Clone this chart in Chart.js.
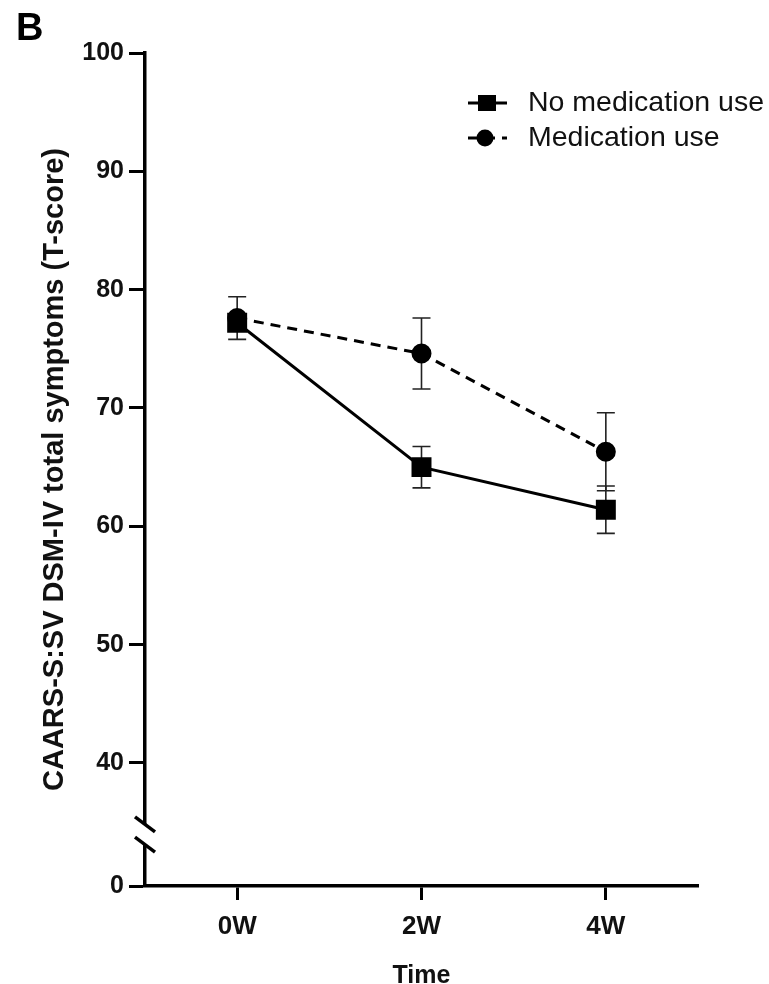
<!DOCTYPE html>
<html lang="en">
<head>
<meta charset="UTF-8">
<title>CAARS-S:SV DSM-IV total symptoms</title>
<style>
  body { margin: 0; background: #fff; }
  #wrap { width: 769px; height: 984px; }
</style>
<script src="https://cdn.jsdelivr.net/npm/chart.js"></script>
</head>
<body>
<div id="wrap"><canvas id="chart" width="769" height="984"></canvas></div>
<script>
// data (mean and error bar half-length)
const categories = ['0W', '2W', '4W'];
const seriesNames = ['No medication use', 'Medication use'];
const noMedMean = [77.2, 65.0, 61.4];
const noMedErr = [0.6, 1.75, 2.0];
const medMean = [77.6, 74.6, 66.3];
const medErr = [1.8, 3.0, 3.3];

// y axis: 40..100 plus a broken segment down to "0"
const yTickValues = [40, 50, 60, 70, 80, 90, 100];
const yBottom = 29.6;            // value where the "0" tick sits below the break
const breakValues = [34.8, 33.1]; // where the two break slashes cross the axis

const FONT = '"Liberation Sans", Arial, Helvetica, sans-serif';

// error bars, drawn under the markers
const errorBars = {
  id: 'errorBars',
  beforeDatasetsDraw(chart) {
    const ctx = chart.ctx;
    const xs = chart.scales.x, ys = chart.scales.y;
    const errs = [noMedErr, medErr];
    ctx.save();
    ctx.strokeStyle = '#222';
    ctx.lineWidth = 1.6;
    chart.data.datasets.forEach((ds, i) => {
      ds.data.forEach((v, j) => {
        const px = xs.getPixelForValue(j);
        const top = ys.getPixelForValue(v + errs[i][j]);
        const bot = ys.getPixelForValue(v - errs[i][j]);
        ctx.beginPath();
        ctx.moveTo(px, top); ctx.lineTo(px, bot);
        ctx.moveTo(px - 9, top); ctx.lineTo(px + 9, top);
        ctx.moveTo(px - 9, bot); ctx.lineTo(px + 9, bot);
        ctx.stroke();
      });
    });
    ctx.restore();
  }
};

// axis break, panel letter and legend
const decorations = {
  id: 'decorations',
  afterDraw(chart) {
    const ctx = chart.ctx;
    const ys = chart.scales.y;
    const left = chart.chartArea.left;
    const y1 = ys.getPixelForValue(breakValues[0]);
    const y2 = ys.getPixelForValue(breakValues[1]);
    ctx.save();

    // gap in the y axis + two slashes
    ctx.fillStyle = '#fff';
    ctx.fillRect(left - 3, y1, 6, y2 - y1);
    ctx.strokeStyle = '#000';
    ctx.lineWidth = 3.5;
    [y1, y2].forEach(py => {
      ctx.beginPath();
      ctx.moveTo(left - 10, py - 7.5);
      ctx.lineTo(left + 10, py + 7.5);
      ctx.stroke();
    });

    // panel letter
    ctx.fillStyle = '#000';
    ctx.font = 'bold 38px ' + FONT;
    ctx.textAlign = 'left';
    ctx.textBaseline = 'alphabetic';
    ctx.fillText('B', 16, 40);

    // legend
    const rows = [103, 138];
    const x0 = 468, x1 = 507, mx = 487;
    ctx.font = '28.5px ' + FONT;
    ctx.textBaseline = 'middle';
    chart.data.datasets.forEach((ds, i) => {
      const ry = rows[i];
      ctx.strokeStyle = '#000';
      ctx.lineWidth = 3;
      ctx.setLineDash(ds.borderDash || []);
      ctx.beginPath();
      ctx.moveTo(x0, ry); ctx.lineTo(x1, ry);
      ctx.stroke();
      ctx.setLineDash([]);
      ctx.fillStyle = '#000';
      if (ds.pointStyle === 'rect') {
        ctx.fillRect(mx - 9, ry - 8, 18, 16);
      } else {
        ctx.beginPath();
        ctx.arc(mx - 2, ry, 8.5, 0, Math.PI * 2);
        ctx.fill();
      }
      ctx.fillStyle = '#111';
      ctx.fillText(ds.label, 528, ry);
    });
    ctx.restore();
  }
};

new Chart(document.getElementById('chart'), {
  type: 'line',
  data: {
    labels: categories,
    datasets: [
      {
        label: seriesNames[0],
        data: noMedMean,
        borderColor: '#000',
        backgroundColor: '#000',
        borderWidth: 3,
        pointStyle: 'rect',
        pointRadius: 12,
        pointHoverRadius: 12,
        tension: 0
      },
      {
        label: seriesNames[1],
        data: medMean,
        borderColor: '#000',
        backgroundColor: '#000',
        borderWidth: 3,
        borderDash: [10, 7],
        pointStyle: 'circle',
        pointRadius: 8.5,
        pointHoverRadius: 8.5,
        tension: 0
      }
    ]
  },
  options: {
    responsive: false,
    animation: false,
    layout: { padding: { left: 0, top: 53, right: 71, bottom: 0 } },
    plugins: {
      legend: { display: false },
      tooltip: { enabled: false }
    },
    scales: {
      x: {
        offset: true,
        grid: { offset: false, drawOnChartArea: false, tickLength: 14, tickWidth: 3, tickColor: '#000' },
        border: { display: true, color: '#000', width: 3.5 },
        ticks: { color: '#111', padding: 11, font: { family: FONT, size: 26, weight: 'bold' } },
        title: {
          display: true, text: 'Time', color: '#111', padding: 0,
          font: { family: FONT, size: 25, weight: 'bold', lineHeight: 0.6 }
        },
        afterFit: s => { s.height = 98; }
      },
      y: {
        min: yBottom,
        max: 100,
        afterBuildTicks: s => { s.ticks = [yBottom, ...yTickValues].map(v => ({ value: v })); },
        grid: { drawOnChartArea: false, tickLength: 16, tickWidth: 3, tickColor: '#000' },
        border: { display: true, color: '#000', width: 3.5 },
        ticks: {
          color: '#111', padding: 5,
          font: { family: FONT, size: 25, weight: 'bold' },
          callback: v => (v === yBottom ? '0' : String(v))
        },
        title: {
          display: true, text: 'CAARS-S:SV DSM-IV total symptoms (T-score)', color: '#111',
          padding: { top: 38, bottom: 0 },
          font: { family: FONT, size: 29, weight: 'bold' }
        },
        afterFit: s => { s.width = 145; }
      }
    }
  },
  plugins: [errorBars, decorations]
});
</script>
</body>
</html>
